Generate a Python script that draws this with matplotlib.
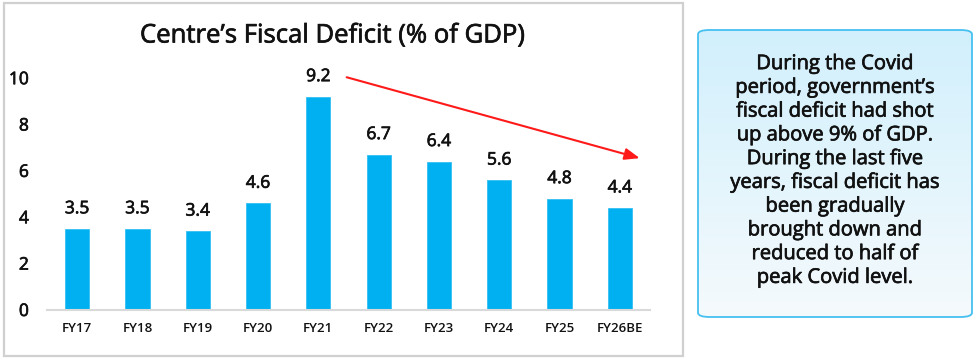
import matplotlib
matplotlib.use("Agg")
import matplotlib.pyplot as plt
import matplotlib.patheffects as pe
import numpy as np
from matplotlib.patches import FancyBboxPatch, Rectangle

plt.rcParams['font.family'] = ['Open Sans', 'DejaVu Sans']

categories = ["FY17", "FY18", "FY19", "FY20", "FY21", "FY22", "FY23", "FY24", "FY25", "FY26BE"]
values = [3.5, 3.5, 3.4, 4.6, 9.2, 6.7, 6.4, 5.6, 4.8, 4.4]
yticks = [0, 2, 4, 6, 8, 10]
title = "Centre\u2019s Fiscal Deficit (% of GDP)"
note = ("During the Covid\nperiod, government\u2019s\nfiscal deficit had shot\nup above 9% of GDP.\n"
        "During the last five\nyears, fiscal deficit has\nbeen gradually\nbrought down and\n"
        "reduced to half of\npeak Covid level.")

TXT = "#111111"
med = [pe.withStroke(linewidth=0.5, foreground=TXT)]

W, H = 974, 358
fig = plt.figure(figsize=(W / 100, H / 100), dpi=100)
fig.patch.set_facecolor("white")

# left panel border
fig.add_artist(Rectangle((4 / W, 1 - 356 / H), (683 - 4) / W, (356 - 3) / H,
                         transform=fig.transFigure, fill=False, edgecolor="#d0d0d0", linewidth=1.6))

ax = fig.add_axes([47 / W, 1 - 310 / H, (650 - 47) / W, (310 - 55) / H])
x = np.arange(len(categories))
ax.bar(x, values, width=0.4, color="#00B0F0", edgecolor="#33c0f3", linewidth=0.6, zorder=2)
for xi, v in zip(x, values):
    ax.text(xi, v + 0.5, f"{v:.1f}", ha="center", va="bottom", fontsize=12.5,
            color=TXT, path_effects=med)

ax.set_xlim(-0.5, len(categories) - 0.5)
ax.set_ylim(0, 11)
ax.set_yticks(yticks)
ax.set_yticklabels([str(t) for t in yticks], fontsize=12.5, color=TXT)
for lab in ax.get_yticklabels():
    lab.set_path_effects(med)
ax.set_xticks(x)
ax.set_xticklabels(categories, fontsize=9.5, fontweight="semibold", color=TXT)
ax.tick_params(axis="both", length=0)
ax.tick_params(axis="y", pad=13)
ax.tick_params(axis="x", pad=9)
for s in ["top", "right", "left"]:
    ax.spines[s].set_visible(False)
ax.spines["bottom"].set_color("#d9d9d9")
ax.spines["bottom"].set_linewidth(1.5)

fig.text(333 / W, 1 - 36 / H, title, ha="center", va="center", fontsize=18.5,
         color=TXT, path_effects=med)

# trend arrow from the peak towards the latest year
peak = int(np.argmax(values))
last = len(values) - 1
ax.annotate("", xy=(last + 0.33, values[last] + 2.15), xytext=(peak + 0.47, values[peak] + 0.84),
            arrowprops=dict(arrowstyle="-|>,head_length=0.9,head_width=0.35", color="#ff1a1a", lw=1.5,
                            shrinkA=0, shrinkB=0), annotation_clip=False)

# right note box with gradient
bx0, by0, bx1, by1 = 698 / W, 1 - 317 / H, 972 / W, 1 - 30 / H
box = FancyBboxPatch((bx0, by0), bx1 - bx0, by1 - by0,
                     boxstyle="round,pad=0,rounding_size=0.012",
                     transform=fig.transFigure, facecolor="none", edgecolor="#45c0f1", linewidth=1.3, zorder=3)
fig.add_artist(box)
grad = np.linspace(0, 1, 256).reshape(-1, 1)
top = np.array([0.82, 0.94, 0.99])
bot = np.array([0.96, 0.98, 0.99])
img = top[None, None, :] * (1 - grad[:, :, None]) + bot[None, None, :] * grad[:, :, None]
gax = fig.add_axes([bx0, by0, bx1 - bx0, by1 - by0])
gax.set_axis_off()
im = gax.imshow(img, aspect="auto", extent=[bx0, bx1, by0, by1], origin="upper",
                transform=fig.transFigure, zorder=1)
clip = FancyBboxPatch((bx0, by0), bx1 - bx0, by1 - by0,
                      boxstyle="round,pad=0,rounding_size=0.012", transform=fig.transFigure)
im.set_clip_path(clip)
fig.text((bx0 + bx1) / 2, 1 - 171 / H, note, ha="center", va="center", fontsize=14.5,
         color=TXT, linespacing=1.25, zorder=4, path_effects=med)

fig.savefig("out.png", dpi=100)
